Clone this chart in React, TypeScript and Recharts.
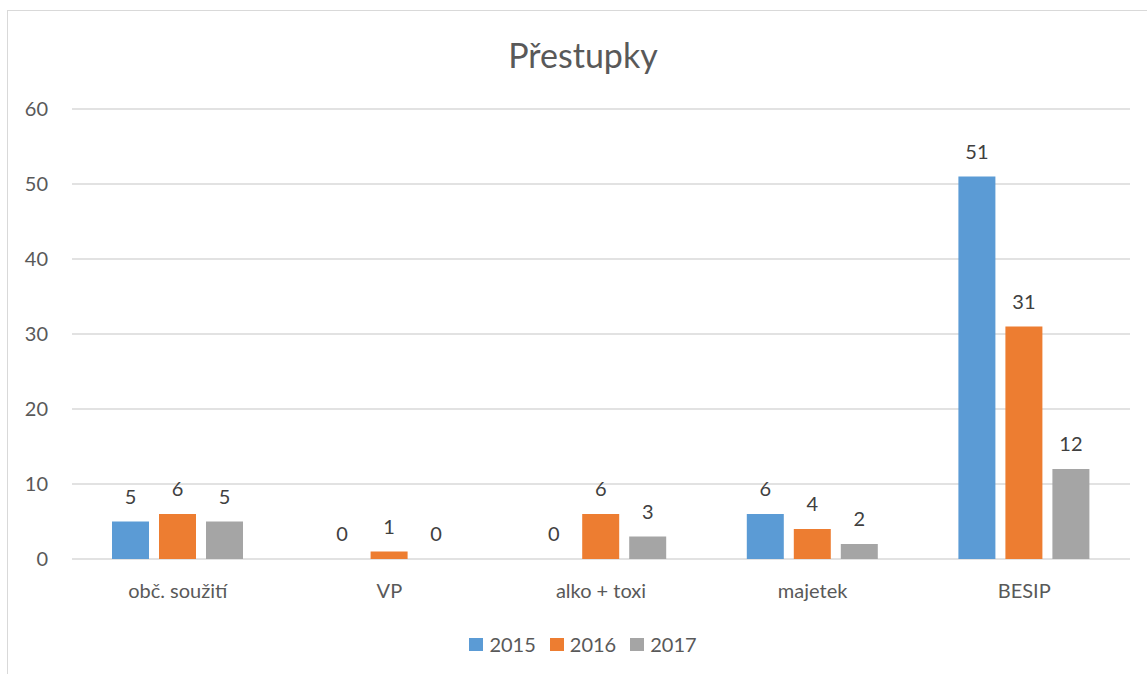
import React from "react";
import { BarChart, Bar, XAxis, YAxis, CartesianGrid, LabelList } from "recharts";

const categories = ["obč. soužití", "VP", "alko + toxi", "majetek", "BESIP"];
const values2015 = [5, 0, 0, 6, 51];
const values2016 = [6, 1, 6, 4, 31];
const values2017 = [5, 0, 3, 2, 12];
const yTicks = [0, 10, 20, 30, 40, 50, 60];

const series = [
  { key: "2015", color: "#5B9BD5" },
  { key: "2016", color: "#ED7D31" },
  { key: "2017", color: "#A5A5A5" },
];

const data = categories.map((name, i) => ({
  name,
  "2015": values2015[i],
  "2016": values2016[i],
  "2017": values2017[i],
}));

const FONT = "Lato, 'Open Sans', sans-serif";

export default function App() {
  return (
    <div style={{ position: "absolute", left: 0, top: 0, width: 1147, height: 674, overflow: "hidden", fontFamily: FONT }}>
      {/* chart frame */}
      <div
        style={{
          position: "absolute",
          left: 7,
          top: 10,
          width: 1160,
          height: 700,
          border: "1.5px solid #d9d9d9",
          boxSizing: "border-box",
        }}
      />
      <div
        style={{
          position: "absolute",
          left: 0,
          width: 1166,
          top: 34,
          textAlign: "center",
          fontSize: 34,
          color: "#595959",
        }}
      >
        Přestupky
      </div>
      <div style={{ position: "absolute", left: 0, top: 0 }}>
        <BarChart
          width={1147}
          height={674}
          data={data}
          margin={{ top: 109, right: 17, left: 0, bottom: 88 }}
          barGap={10}
          barSize={37}
        >
          <CartesianGrid vertical={false} stroke="#d9d9d9" strokeWidth={1.5} />
          <XAxis
            dataKey="name"
            tickLine={false}
            axisLine={false}
            tickSize={0}
            tickMargin={25}
            height={27}
            tick={{ fill: "#595959", fontSize: 20, fontFamily: FONT }}
          />
          <YAxis
            domain={[0, 60]}
            ticks={yTicks}
            width={72}
            tickLine={false}
            axisLine={false}
            tickSize={0}
            tickMargin={24}
            tick={{ fill: "#595959", fontSize: 20, fontFamily: FONT }}
          />
          {series.map((s) => (
            <Bar key={s.key} dataKey={s.key} fill={s.color} minPointSize={0.01} isAnimationActive={false}>
              <LabelList
                dataKey={s.key}
                position="top"
                offset={18}
                fill="#404040"
                fontSize={20}
                fontFamily={FONT}
              />
            </Bar>
          ))}
        </BarChart>
      </div>
      {/* legend */}
      <div
        style={{
          position: "absolute",
          top: 632,
          left: 0,
          width: 1166,
          display: "flex",
          justifyContent: "center",
          gap: 14,
          fontSize: 20,
          color: "#595959",
        }}
      >
        {series.map((s) => (
          <div key={s.key} style={{ display: "flex", alignItems: "center", gap: 6 }}>
            <span style={{ width: 14, height: 13, background: s.color, display: "inline-block" }} />
            <span>{s.key}</span>
          </div>
        ))}
      </div>
    </div>
  );
}
